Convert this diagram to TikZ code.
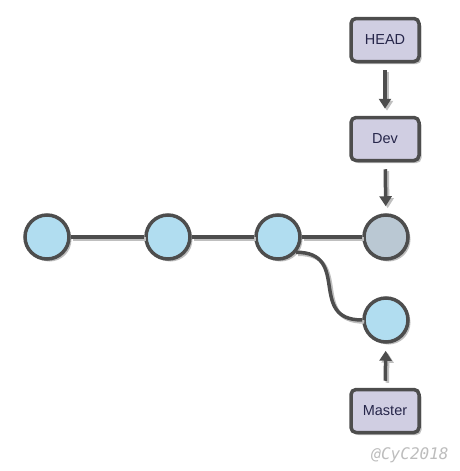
\documentclass[tikz,border=0pt]{standalone}
\usepackage{fontspec}
\setsansfont{Liberation Sans}
\newfontfamily\markfont{DejaVu Sans Mono}
\usepackage{xcolor}
\usetikzlibrary{arrows.meta, shadows, positioning}
\definecolor{commitblue}{HTML}{B1DDF0}
\definecolor{tipgray}{HTML}{BAC8D3}
\definecolor{reflilac}{HTML}{D0CEE2}
\definecolor{edgedark}{HTML}{4D4D4D}
\definecolor{labelnavy}{HTML}{26264A}
\definecolor{markgray}{HTML}{BDBDBD}

\tikzset{
  commit/.style={circle, draw=edgedark, line width=3.5pt, fill=commitblue, minimum size=44pt, inner sep=0pt,
    drop shadow={shadow xshift=2.5pt, shadow yshift=-2.5pt, fill=black, opacity=0.25}},
  refbox/.style={rectangle, rounded corners=5pt, draw=edgedark, line width=3.5pt, fill=reflilac,
    minimum width=68pt, minimum height=43pt, text=labelnavy, font=\sffamily\fontsize{14.5}{14.5}\selectfont,
    drop shadow={shadow xshift=2.5pt, shadow yshift=-2.5pt, fill=black, opacity=0.25}},
  link/.style={draw=edgedark, line width=3.5pt,
    preaction={draw=black!25, line width=3.5pt, transform canvas={shift={(2pt,-2pt)}}}},
  pointer/.style={link, -{Triangle[width=12pt,length=10pt]}, shorten <=7pt, shorten >=7pt}
}

\begin{document}
\begin{tikzpicture}[x=1pt, y=-1pt]
  \useasboundingbox (0,0) rectangle (459,471);

  % Commit line
  \node[commit] (c1) at (47,237) {};
  \node[commit] (c2) at (168,237) {};
  \node[commit] (c3) at (278,237) {};
  \node[commit, fill=tipgray] (c4) at (386,237) {};
  \node[commit] (c5) at (386,320) {};

  \draw[link] (c1) -- (c2);
  \draw[link] (c2) -- (c3);
  \draw[link] (c3) -- (c4);
  \draw[link] (c3.-40) to[out=0, in=180, looseness=1.5] (c5.west);

  % Branch pointers
  \node[refbox] (head) at (385,40) {HEAD};
  \node[refbox] (dev) at (385,139) {Dev};
  \node[refbox] (master) at (385,411) {Master};

  \draw[pointer] (head) -- (dev);
  \draw[pointer] (dev) -- (c4);
  \draw[pointer] (master) -- (c5);

  % Watermark
  \node[markgray, font=\markfont\itshape\fontsize{16}{16}\selectfont] (mark) at (410,455) {@CyC2018};
\end{tikzpicture}
\end{document}
